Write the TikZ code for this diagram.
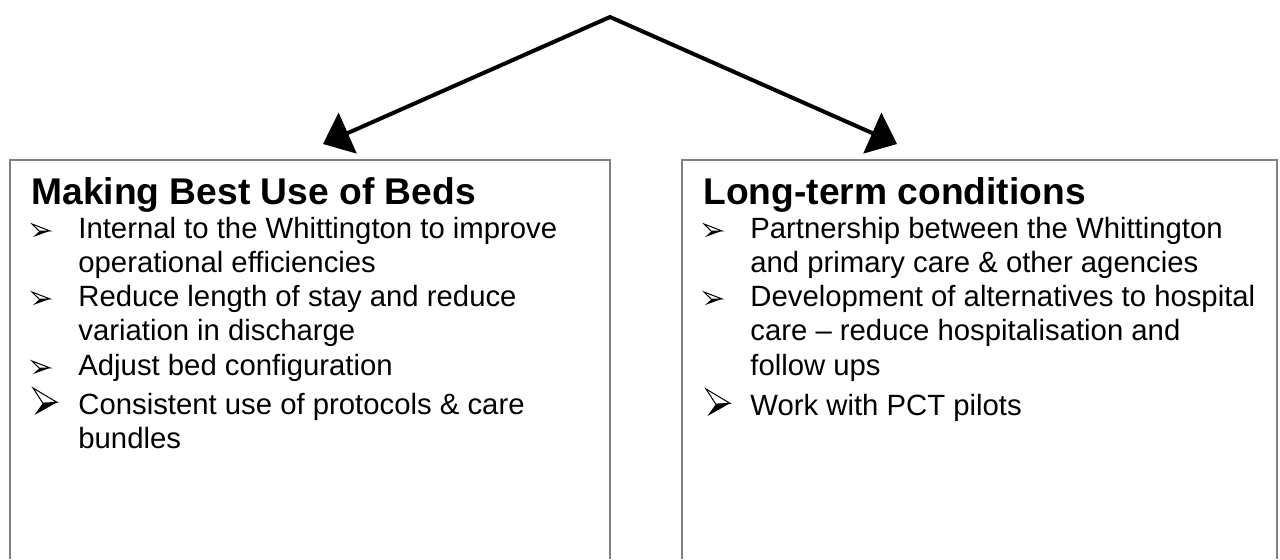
\documentclass[tikz,border=0pt]{standalone}
\usepackage{fontspec}
\setmainfont{Liberation Sans}
\usetikzlibrary{arrows.meta}

\tikzset{
  panel/.style={draw=none, inner sep=0pt, minimum width=300pt, minimum height=199.5pt},
  frame/.style={draw=black!50, line width=1pt},
  connector/.style={draw=black, line width=2pt, line join=miter,
    {Triangle[length=13.5pt,width=22pt]}-{Triangle[length=13.5pt,width=22pt]}},
  heading/.style={anchor=base west, inner sep=0pt,
    font=\fontsize{18.6pt}{22pt}\selectfont\bfseries},
  item/.style={anchor=base west, inner sep=0pt,
    font=\fontsize{14.65pt}{17pt}\selectfont},
  arrowbullet/.pic={
    \fill[black] (0.41,0.56) -- (1,0.53) -- (0.06,1) -- cycle;
    \draw[black, line width=0.5pt, fill=white, line join=miter]
      (0,0) -- (1,0.53) -- (0.41,0.56) -- cycle;
  }
}

\begin{document}
\begin{tikzpicture}[x=0.5pt, y=-0.5pt]
  \useasboundingbox (0,0) rectangle (1280,559);

  % the two panels, open at the bottom
  \node[panel] (beds) at (310,359.5) {};
  \node[panel, minimum width=297.5pt] (ltc) at (979.5,359.5) {};
  \draw[frame] (beds.south west) |- (beds.north east) -- (beds.south east);
  \draw[frame] (ltc.south west) |- (ltc.north east) -- (ltc.south east);

  % split connector
  \coordinate (apex) at (610,17);
  \coordinate (tipL) at (323,144);
  \coordinate (tipR) at (897,144);
  \draw[connector] (tipL) -- (apex) -- (tipR);

  % left panel
  \node[heading] (bedsT) at (31,204) {Making Best Use of Beds};
  \pic[xscale=18, yscale=13] at (32,224) {arrowbullet};
  \node[item] (b1a) at (78,238) {Internal to the Whittington to improve};
  \node[item] (b1b) at (78,272) {operational efficiencies};
  \pic[xscale=18, yscale=13] at (32,292) {arrowbullet};
  \node[item] (b2a) at (78,306) {Reduce length of stay and reduce};
  \node[item] (b2b) at (78,340) {variation in discharge};
  \pic[xscale=18, yscale=13] at (32,361) {arrowbullet};
  \node[item] (b3a) at (78,375) {Adjust bed configuration};
  \pic[xscale=24, yscale=27] at (33,388) {arrowbullet};
  \node[item] (b4a) at (78,414) {Consistent use of protocols \& care};
  \node[item] (b4b) at (78,448) {bundles};

  % right panel
  \node[heading] (ltcT) at (703,204) {Long-term conditions};
  \pic[xscale=18, yscale=13] at (704,224) {arrowbullet};
  \node[item] (l1a) at (750,238) {Partnership between the Whittington};
  \node[item] (l1b) at (750,272) {and primary care \& other agencies};
  \pic[xscale=18, yscale=13] at (704,292) {arrowbullet};
  \node[item] (l2a) at (750,306) {Development of alternatives to hospital};
  \node[item] (l2b) at (750,340) {care – reduce hospitalisation and};
  \node[item] (l2c) at (750,375) {follow ups};
  \pic[xscale=24, yscale=27] at (706,389) {arrowbullet};
  \node[item] (l3a) at (750,415) {Work with PCT pilots};
\end{tikzpicture}
\end{document}
